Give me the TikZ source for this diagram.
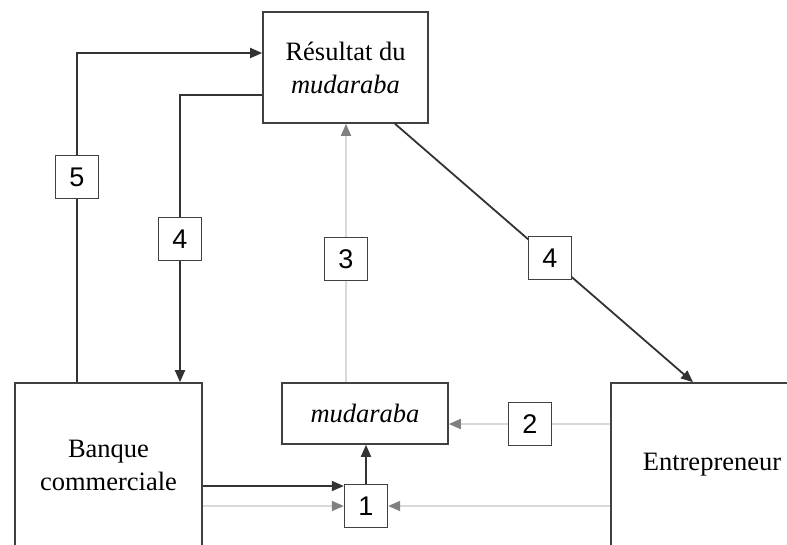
\documentclass[tikz,border=0pt]{standalone}
\usepackage{fontspec}
\setmainfont{Liberation Serif}
\newfontfamily\lblfont{Liberation Sans}
\usetikzlibrary{arrows.meta}

\begin{document}
\begin{tikzpicture}[x=1pt,y=-1pt,
    >={Triangle[length=12pt,width=10pt]},
    box/.style={draw=black!75, line width=1.6pt, align=center, inner sep=0pt,
        font=\fontsize{26.5}{33}\selectfont},
    lbl/.style={draw=black!75, fill=white, line width=1.4pt, minimum size=43pt,
        inner sep=0pt, font=\lblfont\fontsize{27}{27}\selectfont},
    dark/.style={draw=black!80, line width=1.8pt},
    light/.style={draw=black!15, line width=1.8pt},
    gtip/.style={-{Triangle[length=12pt,width=10pt,color=black!50]}}]
        \path[use as bounding box, clip] (0,0) rectangle (787,544);

        % Blocchi
        \node[box, minimum width=165pt, minimum height=111pt] (res) at (345.5,67.5) {Résultat du\\\textit{mudaraba}};
        \node[box, minimum width=187pt, minimum height=164pt] (banque) at (108.5,465) {Banque\\commerciale};
        \node[box, minimum width=166pt, minimum height=61pt] (mud) at (365,413.5) {\textit{mudaraba}};
        \node[box, minimum width=202pt, minimum height=164pt] (entr) at (712,465) {Entrepreneur};

        % Etichette
        \node[lbl] (l5) at (77,177) {5};
        \node[lbl] (l4a) at (180,239) {4};
        \node[lbl] (l3) at (346,259) {3};
        \node[lbl] (l2) at (530,424) {2};
        \node[lbl] (l1) at (366,506) {1};
        \coordinate (t1) at ([yshift=20pt]l1.west);

        % Flusso 5
        \draw[dark] (banque.north -| l5) -- (l5.south);
        \draw[dark,->] (l5.north) |- ([yshift=14.5pt]res.west);

        % Flussi 4
        \draw[dark] ([yshift=-27.5pt]res.west) -| (l4a.north);
        \draw[dark,->] (l4a.south) -- (l4a.south |- banque.north);
        \draw[dark,->] ([xshift=49.5pt]res.south) -- node[lbl,pos=.52] (l4b) {4} ([xshift=-19pt]entr.north);

        % Flusso 3
        \draw[light] (l3 |- mud.north) -- (l3.south);
        \draw[light,gtip] (l3.north) -- (l3.north |- res.south);

        % Flusso 2
        \draw[light] (entr.west |- l2) -- (l2.east);
        \draw[light,gtip] (l2.west) -- (mud.east |- l2);

        % Flusso 1
        \draw[dark,->] (t1 -| banque.east) -- (t1);
        \draw[light,gtip] (banque.east |- l1) -- (l1.west);
        \draw[light,gtip] (entr.west |- l1) -- (l1.east);
        \draw[dark,->] (l1.north) -- (l1.north |- mud.south);
    \end{tikzpicture}
\end{document}
